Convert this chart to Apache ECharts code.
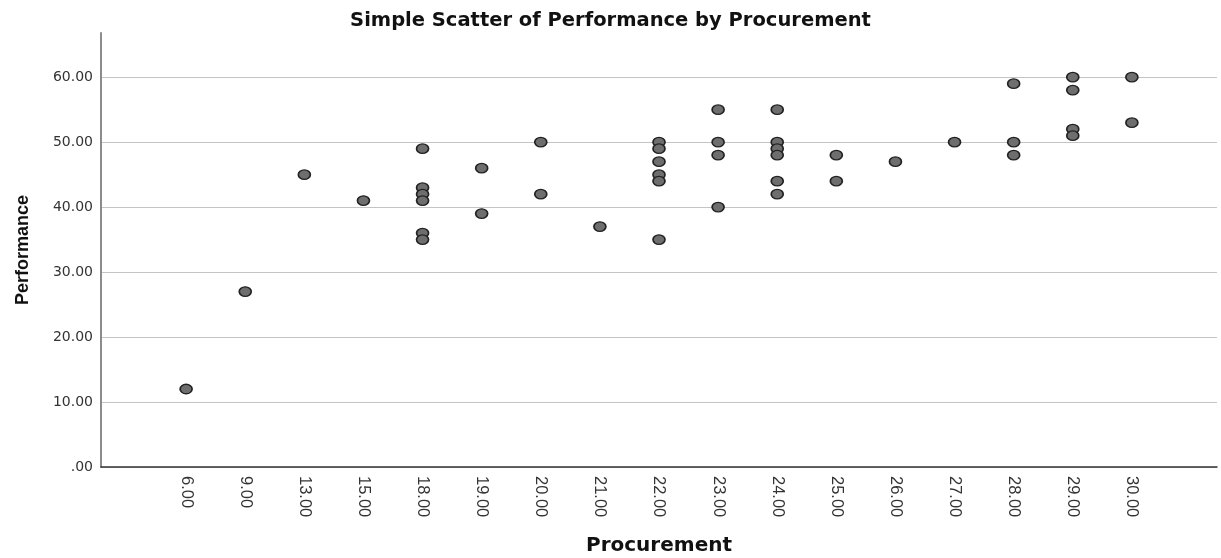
<!DOCTYPE html>
<html lang="en">
<head>
    <meta charset="UTF-8">
    <title>Simple Scatter of Performance by Procurement</title>
    <script type="text/javascript" src="https://cdn.jsdelivr.net/npm/echarts@6/dist/echarts.min.js"></script>
    <style>
        html, body { margin: 0; padding: 0; background: #fff; }
        #scatter { width: 1221px; height: 558px; }
    </style>
</head>
<body>
<div id="scatter"></div>
<script>
    // x categories as printed on the axis
    var categories = [6, 9, 13, 15, 18, 19, 20, 21, 22, 23, 24, 25, 26, 27, 28, 29, 30];

    // one entry per case (procurement, performance)
    var procurement = [
        6, 9, 13, 15,
        18, 18, 18, 18, 18, 18,
        19, 19, 20, 20, 21,
        22, 22, 22, 22, 22, 22,
        23, 23, 23, 23,
        24, 24, 24, 24, 24, 24,
        25, 25, 26, 27,
        28, 28, 28,
        29, 29, 29, 29,
        30, 30
    ];
    var performance = [
        12, 27, 45, 41,
        49, 43, 42, 41, 36, 35,
        46, 39, 50, 42, 37,
        50, 49, 47, 45, 44, 35,
        55, 50, 48, 40,
        55, 50, 49, 48, 44, 42,
        48, 44, 47, 50,
        59, 50, 48,
        60, 58, 52, 51,
        60, 53
    ];

    var yTicks = [0, 10, 20, 30, 40, 50, 60];

    var points = [];
    for (var i = 0; i < procurement.length; i++) {
        points.push([categories.indexOf(procurement[i]), performance[i]]);
    }
    var catIndex = categories.map(function (c, i) { return i; });

    // the source picture is stretched sideways, so horizontal text uses the wider DejaVu
    var wide = 'DejaVu Sans, Verdana, sans-serif';
    var narrow = 'Liberation Sans, Arial, sans-serif';
    var mychart = echarts.init(document.getElementById('scatter'));
    var option = {
        animation: false,
        title: {
            text: 'Simple Scatter of Performance by Procurement',
            left: 'center',
            top: 6,
            textStyle: { fontFamily: wide, fontSize: 19.5, fontWeight: 'bold', color: '#111' }
        },
        grid: { left: 101, right: 4, top: 33, bottom: 91, outerBoundsMode: 'none' },
        xAxis: {
            type: 'value',
            min: -1.44,
            max: 17.44,
            name: 'Procurement',
            nameLocation: 'middle',
            nameGap: 69,
            nameTextStyle: { fontFamily: wide, fontSize: 20, fontWeight: 'bold', color: '#111' },
            axisLine: { show: true, onZero: false, lineStyle: { color: '#333', width: 1.5 } },
            axisTick: { show: false },
            splitLine: { show: false },
            axisLabel: {
                customValues: catIndex,
                rotate: -90,
                margin: 9,
                fontFamily: narrow,
                fontSize: 16.5,
                color: '#333',
                formatter: function (v) { return categories[v].toFixed(2); }
            }
        },
        yAxis: {
            type: 'value',
            min: 0,
            max: 66.8,
            interval: 10,
            name: 'Performance',
            nameLocation: 'middle',
            nameRotate: 90,
            nameGap: 69,
            nameTextStyle: { fontFamily: narrow, fontSize: 18, fontWeight: 'bold', color: '#111' },
            axisLine: { show: true, onZero: false, lineStyle: { color: '#8c8c8c', width: 2 } },
            axisTick: { show: false },
            splitLine: { show: true, showMaxLine: false, lineStyle: { color: '#c4c4c4', width: 1 } },
            axisLabel: {
                customValues: yTicks,
                margin: 8,
                fontFamily: wide,
                fontSize: 14,
                color: '#333',
                formatter: function (v) { return v === 0 ? '.00' : v.toFixed(2); }
            }
        },
        series: [{
            type: 'scatter',
            data: points,
            symbol: 'circle',
            symbolSize: [12, 9.5],
            itemStyle: { color: '#6e6e6e', borderColor: '#222', borderWidth: 1.5, opacity: 1 }
        }]
    };
    mychart.setOption(option);
</script>
</body>
</html>
